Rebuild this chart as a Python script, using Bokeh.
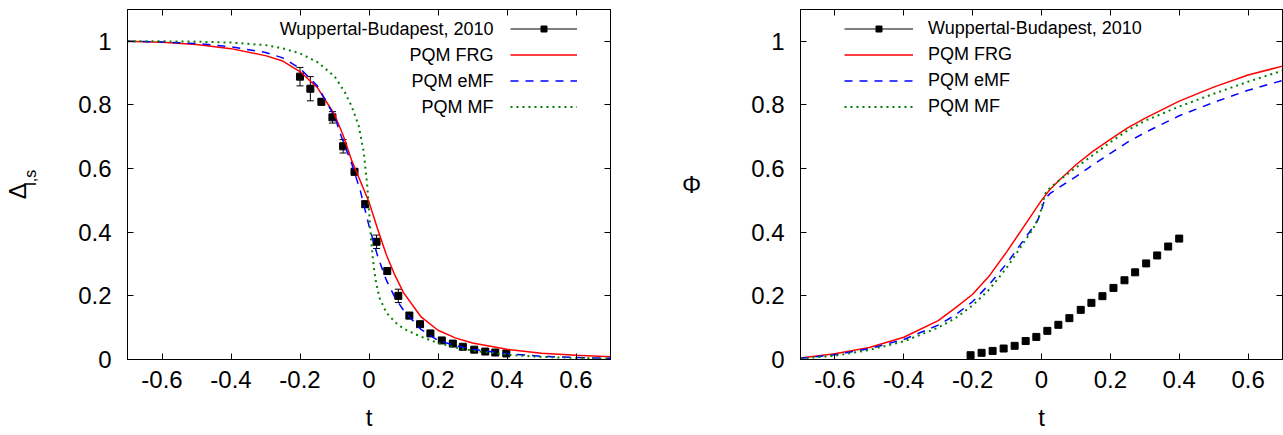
from bokeh.plotting import figure
from bokeh.layouts import row
from bokeh.models import (LinearAxis, FixedTicker, Legend, LegendItem, Label,
                          Range1d, ColumnDataSource)
from bokeh.embed import file_html
from bokeh.resources import INLINE

# ---------------- data ----------------
x_ticks = [-0.6, -0.4, -0.2, 0.0, 0.2, 0.4, 0.6]
x_tick_labels = ["-0.6", "-0.4", "-0.2", "0", "0.2", "0.4", "0.6"]
y_ticks = [0.0, 0.2, 0.4, 0.6, 0.8, 1.0]
y_tick_labels = ["0", "0.2", "0.4", "0.6", "0.8", "1"]

series_names = ["Wuppertal-Budapest, 2010", "PQM FRG", "PQM eMF", "PQM MF"]

# left panel: Delta_{l,s}
t_lat_delta = [-0.200, -0.170, -0.138, -0.106, -0.075, -0.042, -0.011, 0.022, 0.053, 0.085,
               0.117, 0.148, 0.178, 0.211, 0.243, 0.272, 0.305, 0.337, 0.366, 0.398]
delta_lat = [0.889, 0.851, 0.810, 0.761, 0.670, 0.590, 0.488, 0.370, 0.278, 0.200,
             0.138, 0.111, 0.082, 0.060, 0.050, 0.040, 0.031, 0.025, 0.022, 0.019]
delta_err = [0.029, 0.038, 0.010, 0.018, 0.021, 0.010, 0.010, 0.021, 0.010, 0.021,
             0.010, 0.008, 0.006, 0.005, 0.005, 0.004, 0.004, 0.004, 0.004, 0.004]

t_d_frg = [-0.7, -0.6, -0.5, -0.4, -0.3, -0.25, -0.2, -0.15, -0.1, -0.075, -0.05, -0.025, 0.0,
           0.025, 0.05, 0.075, 0.1, 0.15, 0.2, 0.25, 0.3, 0.4, 0.5, 0.6, 0.7]
d_frg = [1.0, 0.997, 0.99, 0.977, 0.955, 0.938, 0.905, 0.855, 0.77, 0.705, 0.625, 0.56, 0.495,
         0.41, 0.33, 0.265, 0.21, 0.135, 0.092, 0.068, 0.052, 0.032, 0.02, 0.013, 0.009]

t_d_emf = [-0.7, -0.6, -0.5, -0.4, -0.3, -0.25, -0.2, -0.15, -0.1, -0.08, -0.05, -0.025, 0.0,
           0.025, 0.05, 0.075, 0.1, 0.15, 0.2, 0.25, 0.3, 0.4, 0.5, 0.6, 0.7]
d_emf = [1.0, 0.998, 0.993, 0.983, 0.965, 0.948, 0.915, 0.86, 0.765, 0.70, 0.615, 0.53, 0.42,
         0.325, 0.25, 0.195, 0.155, 0.095, 0.06, 0.044, 0.032, 0.018, 0.01, 0.006, 0.004]

t_d_mf = [-0.7, -0.6, -0.5, -0.4, -0.3, -0.25, -0.2, -0.15, -0.1, -0.07, -0.05, -0.03, -0.015,
          -0.005, 0.0, 0.005, 0.01, 0.015, 0.02, 0.03, 0.05, 0.075, 0.1, 0.15, 0.2, 0.25, 0.3,
          0.4, 0.5, 0.6, 0.7]
d_mf = [1.0, 1.0, 0.999, 0.996, 0.988, 0.978, 0.962, 0.935, 0.89, 0.84, 0.795, 0.735, 0.65,
        0.545, 0.47, 0.39, 0.33, 0.28, 0.245, 0.195, 0.148, 0.118, 0.097, 0.072, 0.052, 0.038,
        0.028, 0.015, 0.008, 0.005, 0.003]

# right panel: Phi
t_lat_phi = [-0.206, -0.174, -0.142, -0.110, -0.078, -0.046, -0.015, 0.017, 0.049, 0.081,
             0.114, 0.145, 0.177, 0.209, 0.241, 0.272, 0.304, 0.336, 0.368, 0.400]
phi_lat = [0.0135, 0.021, 0.027, 0.0345, 0.043, 0.058, 0.071, 0.090, 0.109, 0.130,
           0.156, 0.178, 0.199, 0.225, 0.249, 0.274, 0.302, 0.327, 0.355, 0.380]
phi_err = [0.003, 0.003, 0.003, 0.003, 0.003, 0.003, 0.003, 0.003, 0.003, 0.003,
           0.003, 0.003, 0.003, 0.003, 0.003, 0.003, 0.003, 0.003, 0.003, 0.003]

t_p_frg = [-0.7, -0.6, -0.5, -0.4, -0.3, -0.25, -0.2, -0.15, -0.1, -0.05, -0.025, 0.0, 0.025,
           0.05, 0.1, 0.15, 0.2, 0.25, 0.3, 0.4, 0.5, 0.6, 0.7]
p_frg = [0.005, 0.018, 0.038, 0.07, 0.122, 0.162, 0.205, 0.265, 0.34, 0.42, 0.46, 0.5, 0.535,
         0.562, 0.612, 0.655, 0.692, 0.728, 0.758, 0.812, 0.856, 0.894, 0.922]

t_p_emf = [-0.7, -0.6, -0.5, -0.4, -0.3, -0.25, -0.2, -0.15, -0.1, -0.05, -0.025, -0.01, 0.0,
           0.01, 0.025, 0.05, 0.1, 0.15, 0.2, 0.25, 0.3, 0.4, 0.5, 0.6, 0.7]
p_emf = [0.004, 0.015, 0.034, 0.063, 0.108, 0.14, 0.182, 0.238, 0.303, 0.378, 0.415, 0.44, 0.47,
         0.505, 0.522, 0.54, 0.575, 0.612, 0.648, 0.683, 0.713, 0.766, 0.808, 0.846, 0.877]

t_p_mf = [-0.7, -0.6, -0.5, -0.4, -0.3, -0.25, -0.2, -0.15, -0.1, -0.05, -0.025, -0.01, 0.0,
          0.01, 0.025, 0.05, 0.1, 0.15, 0.2, 0.25, 0.3, 0.4, 0.5, 0.6, 0.7]
p_mf = [0.003, 0.012, 0.03, 0.057, 0.1, 0.13, 0.17, 0.222, 0.29, 0.37, 0.41, 0.44, 0.475,
        0.52, 0.54, 0.562, 0.603, 0.643, 0.683, 0.72, 0.75, 0.795, 0.835, 0.873, 0.908]

# ---------------- style ----------------
FONT = "Liberation Sans"
RED, BLUE, GREEN = "#ff0000", "#0000ff", "#008000"
TICK_SIZE = "24px"
LEG_SIZE = "18px"
NBSP = "\u00a0"


def style_axis(ax, labels_visible=True):
    ax.axis_line_color = "black"
    ax.axis_line_width = 1
    ax.major_tick_line_color = "black"
    ax.major_tick_in = 6
    ax.major_tick_out = 0
    ax.minor_tick_line_color = None
    ax.major_label_text_font = FONT
    ax.major_label_text_color = "black"
    ax.axis_label_text_font = FONT
    ax.axis_label_text_font_style = "normal"
    ax.axis_label_text_color = "black"
    if labels_visible:
        ax.major_label_text_font_size = TICK_SIZE
    else:
        ax.major_label_text_font_size = "1px"
        ax.major_label_standoff = 0


def make_fig(width, min_left, min_right):
    p = figure(width=width, height=434, x_range=Range1d(-0.7, 0.7), y_range=Range1d(0, 1.1),
               output_backend="svg", toolbar_location=None,
               min_border_left=min_left, min_border_right=min_right,
               min_border_top=9, min_border_bottom=75)
    p.xgrid.visible = False
    p.ygrid.visible = False
    p.outline_line_color = "black"
    p.outline_line_width = 1
    p.background_fill_color = "white"
    p.border_fill_color = "white"

    xax = p.below[0]
    yax = p.left[0]
    xax.ticker = FixedTicker(ticks=x_ticks)
    xax.major_label_overrides = dict(zip(x_ticks, x_tick_labels))
    yax.ticker = FixedTicker(ticks=y_ticks)
    yax.major_label_overrides = dict(zip(y_ticks, y_tick_labels))
    style_axis(xax)
    style_axis(yax)
    xax.major_label_standoff = 11
    yax.major_label_standoff = 16
    xax.axis_label = "t"
    xax.axis_label_text_font_size = "24px"
    xax.axis_label_standoff = 13

    top = LinearAxis(ticker=FixedTicker(ticks=x_ticks),
                     major_label_overrides={v: "" for v in x_ticks})
    right = LinearAxis(ticker=FixedTicker(ticks=y_ticks),
                       major_label_overrides={v: "" for v in y_ticks})
    style_axis(top, False)
    style_axis(right, False)
    p.add_layout(top, "above")
    p.add_layout(right, "right")
    return p, yax


def add_data(p, t, v, err, caps):
    lo = [a - e for a, e in zip(v, err)]
    hi = [a + e for a, e in zip(v, err)]
    src = ColumnDataSource(dict(t=t, v=v, lo=lo, hi=hi))
    r_err = p.segment(x0="t", y0="lo", x1="t", y1="hi", source=src,
                      line_color="black", line_width=1)
    if caps:
        p.scatter(x="t", y="hi", source=src, marker="dash", size=7,
                  line_color="black", line_width=1)
        p.scatter(x="t", y="lo", source=src, marker="dash", size=7,
                  line_color="black", line_width=1)
    r_sq = p.scatter(x="t", y="v", source=src, marker="square", size=7,
                     fill_color="black", line_color="black")
    return [r_err, r_sq]


def add_curves(p, tf, f, te, e, tm, m):
    r1 = p.line(tf, f, line_color=RED, line_width=1.5)
    r2 = p.line(te, e, line_color=BLUE, line_width=1.5, line_dash="8 7")
    r3 = p.line(tm, m, line_color=GREEN, line_width=2, line_dash="2 4")
    return r1, r2, r3


def make_legend(items, vx, glyph_w, show_labels):
    leg = Legend(items=items, location=(vx, 240), orientation="vertical",
                 glyph_width=glyph_w, glyph_height=15, label_height=26,
                 spacing=0, padding=0, margin=0,
                 border_line_color=None, background_fill_alpha=0,
                 label_text_font=FONT, label_text_baseline="middle",
                 label_text_color="black")
    if show_labels:
        leg.label_text_font_size = LEG_SIZE
        leg.label_standoff = 15
    else:
        leg.label_text_font_size = "1px"
        leg.label_standoff = 0
        leg.label_width = 0
    return leg


# ---------------- left panel ----------------
p1, y1 = make_fig(627, 127, 17)
d1 = add_data(p1, t_lat_delta, delta_lat, delta_err, True)
c1 = add_curves(p1, t_d_frg, d_frg, t_d_emf, d_emf, t_d_mf, d_mf)
items1 = [LegendItem(label=" ", renderers=d1)] + \
         [LegendItem(label=" ", renderers=[r]) for r in c1]
p1.add_layout(make_legend(items1, 383, 67, False))
for i, name in enumerate(series_names):
    p1.add_layout(Label(x=366, y=331 - 26 * i, x_units="screen", y_units="screen",
                        text=name, text_font=FONT, text_font_size=LEG_SIZE,
                        text_align="right", text_baseline="middle", text_color="black"))
# y label: Delta with subscript "l,s" (inner axis label = subscript, outer = Delta)
y1.axis_label = NBSP * 3 + "l,s"
y1.axis_label_text_font_size = "16px"
y1.axis_label_standoff = 36
delta_axis = LinearAxis(ticker=FixedTicker(ticks=[]), axis_label="Δ" + NBSP * 2,
                        axis_label_standoff=-11)
style_axis(delta_axis, False)
delta_axis.axis_line_color = None
delta_axis.major_tick_line_color = None
delta_axis.axis_label_text_font_size = "24px"
p1.add_layout(delta_axis, "left")

# ---------------- right panel ----------------
p2, y2 = make_fig(656, 173, 1)
d2 = add_data(p2, t_lat_phi, phi_lat, phi_err, False)
c2 = add_curves(p2, t_p_frg, p_frg, t_p_emf, p_emf, t_p_mf, p_mf)
items2 = [LegendItem(label=series_names[0], renderers=d2)] + \
         [LegendItem(label=n, renderers=[r]) for n, r in zip(series_names[1:], c2)]
p2.add_layout(make_legend(items2, 44, 69, True))
y2.axis_label = "Φ"
y2.axis_label_orientation = "horizontal"
y2.axis_label_text_font_size = "24px"
y2.axis_label_standoff = 47

layout = row(p1, p2)
open("out.html", "w").write(file_html(layout, INLINE))
